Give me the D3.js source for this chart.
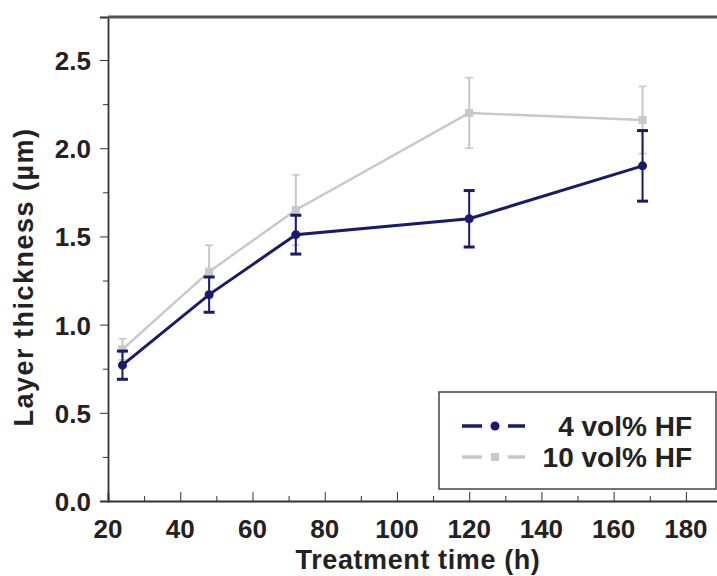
<!DOCTYPE html>
<html>
<head>
<meta charset="utf-8">
<script src="https://cdn.jsdelivr.net/npm/d3@7"></script>
<style>
  body { margin: 0; background: #fff; }
  svg text { font-family: "Liberation Sans", Arial, sans-serif; font-weight: bold; fill: #222; }
</style>
</head>
<body>
<svg width="717" height="576"></svg>
<script>
// data
const times = [24, 48, 72, 120, 168]
const hf4 = [0.77, 1.17, 1.51, 1.60, 1.90]
const hf4Err = [0.08, 0.10, 0.11, 0.16, 0.20]
const hf10 = [0.86, 1.30, 1.65, 2.20, 2.16]
const hf10Err = [0.06, 0.15, 0.20, 0.20, 0.19]
const xTicks = [20, 40, 60, 80, 100, 120, 140, 160, 180]
const yTicks = [0.0, 0.5, 1.0, 1.5, 2.0, 2.5]
const seriesNames = ['4 vol% HF', '10 vol% HF']

const navy = '#1a1a6c'
const grey = '#c8c8c8'

const svg = d3.select('svg')

// plot box edges in px
const plotL = 108, plotR = 722, plotT = 17, plotB = 501

const x = d3.scaleLinear().domain([20, 190]).range([plotL, plotR])
const y = d3.scaleLinear().domain([0, 2.744]).range([plotB, plotT])

// axes
svg.append('g')
  .attr('transform', `translate(0, ${plotB})`)
  .call(d3.axisBottom(x).tickValues(d3.range(20, 191, 10)).tickSize(-8).tickFormat(''))
  .call(g => g.selectAll('.tick line').attr('y2', d => d % 20 === 0 ? -9 : -5))
  .call(g => g.select('.domain').attr('stroke-width', 1.8))
  .call(g => g.selectAll('line, path').attr('stroke', '#333'))

svg.append('g')
  .attr('transform', `translate(0, ${plotB})`)
  .selectAll('text')
  .data(xTicks)
  .join('text')
  .attr('x', d => x(d))
  .attr('y', 37)
  .attr('text-anchor', 'middle')
  .style('font-size', '26px')
  .text(d => d)

svg.append('g')
  .attr('transform', `translate(${plotL}, 0)`)
  .call(d3.axisLeft(y).tickValues(d3.range(0, 2.6, 0.25)).tickSize(8).tickFormat(''))
  .call(g => g.selectAll('.tick line').attr('x2', (d, i) => i % 2 === 0 ? -8 : -5))
  .call(g => g.select('.domain').attr('stroke-width', 1.8))
  .call(g => g.selectAll('line, path').attr('stroke', '#333'))

svg.append('g')
  .selectAll('text')
  .data(yTicks)
  .join('text')
  .attr('x', 91)
  .attr('y', d => y(d) + 10)
  .attr('text-anchor', 'end')
  .style('font-size', '26px')
  .text(d => d.toFixed(1))

// top frame line
svg.append('line')
  .attr('x1', plotL).attr('x2', 717)
  .attr('y1', plotT).attr('y2', plotT)
  .attr('stroke', '#555')
  .attr('stroke-width', 3)

// axis titles
svg.append('text')
  .attr('x', 418)
  .attr('y', 569)
  .attr('text-anchor', 'middle')
  .style('font-size', '27px')
  .style('letter-spacing', '0.6px')
  .text('Treatment time (h)')

svg.append('text')
  .attr('transform', 'translate(33, 277) rotate(-90)')
  .attr('text-anchor', 'middle')
  .style('font-size', '27px')
  .style('letter-spacing', '1.5px')
  .text('Layer thickness (µm)')

// series
const series = [
  { name: seriesNames[1], vals: hf10, err: hf10Err, color: grey, width: 2.4, cap: 8, capW: 1.6, shape: 'square' },
  { name: seriesNames[0], vals: hf4, err: hf4Err, color: navy, width: 3, cap: 11, capW: 3, shape: 'circle' }
]

const line = d3.line()
  .x((d, i) => x(times[i]))
  .y(d => y(d))

series.forEach(s => {
  const g = svg.append('g')
  g.append('path')
    .datum(s.vals)
    .attr('d', line)
    .attr('fill', 'none')
    .attr('stroke', s.color)
    .attr('stroke-width', s.width)

  const bars = g.selectAll('g.err')
    .data(s.vals)
    .join('g')
    .attr('class', 'err')
  bars.append('line')
    .attr('x1', (d, i) => x(times[i])).attr('x2', (d, i) => x(times[i]))
    .attr('y1', (d, i) => y(d + s.err[i])).attr('y2', (d, i) => y(d - s.err[i]))
    .attr('stroke', s.color).attr('stroke-width', 2)
  ;[1, -1].forEach(sign => {
    bars.append('line')
      .attr('x1', (d, i) => x(times[i]) - s.cap / 2).attr('x2', (d, i) => x(times[i]) + s.cap / 2)
      .attr('y1', (d, i) => y(d + sign * s.err[i])).attr('y2', (d, i) => y(d + sign * s.err[i]))
      .attr('stroke', s.color).attr('stroke-width', s.capW)
  })

  if (s.shape === 'circle') {
    g.selectAll('circle')
      .data(s.vals)
      .join('circle')
      .attr('cx', (d, i) => x(times[i]))
      .attr('cy', d => y(d))
      .attr('r', 4.5)
      .attr('fill', s.color)
  } else {
    g.selectAll('rect')
      .data(s.vals)
      .join('rect')
      .attr('x', (d, i) => x(times[i]) - 4)
      .attr('y', d => y(d) - 4)
      .attr('width', 8).attr('height', 8)
      .attr('fill', s.color)
  }
})

// legend
const legend = svg.append('g')
legend.append('rect')
  .attr('x', 439).attr('y', 392)
  .attr('width', 277).attr('height', 97)
  .attr('fill', '#fff')
  .attr('stroke', '#444')
  .attr('stroke-width', 1.5)

const legendItems = [
  { name: seriesNames[0], color: navy, shape: 'circle' },
  { name: seriesNames[1], color: grey, shape: 'square' }
]
legendItems.forEach((item, i) => {
  const ly = 426 + i * 31
  ;[[462, 482], [508, 525]].forEach(seg => {
    legend.append('line')
      .attr('x1', seg[0]).attr('x2', seg[1])
      .attr('y1', ly).attr('y2', ly)
      .attr('stroke', item.color)
      .attr('stroke-width', 3.5)
  })
  if (item.shape === 'circle') {
    legend.append('circle').attr('cx', 495).attr('cy', ly).attr('r', 4.5).attr('fill', item.color)
  } else {
    legend.append('rect').attr('x', 491).attr('y', ly - 4).attr('width', 8).attr('height', 8).attr('fill', item.color)
  }
  legend.append('text')
    .attr('x', 692)
    .attr('y', ly + 10)
    .attr('text-anchor', 'end')
    .style('font-size', '28px')
    .text(item.name)
})
</script>
</body>
</html>
